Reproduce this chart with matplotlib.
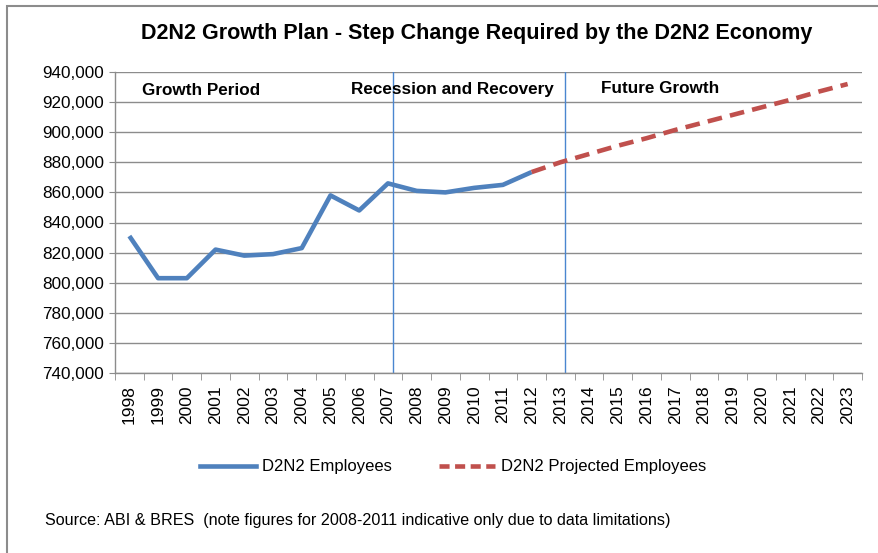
import matplotlib.pyplot as plt
from matplotlib.lines import Line2D
from matplotlib.patches import Rectangle
from matplotlib.ticker import FuncFormatter

years = [str(y) for y in range(1998, 2024)]
employees = [831000, 803000, 803000, 822000, 818000, 819000, 823000, 858000,
             848000, 866000, 861000, 860000, 863000, 865000, 873500]
projected = [873500, 880000, 885500, 891000, 896000, 901500, 906500, 911500,
             916500, 921500, 927000, 932000]
proj_start = 14  # 2012

BLUE = '#4F81BD'
RED = '#C0504D'

plt.rcParams['font.family'] = ['Liberation Sans', 'DejaVu Sans']

fig = plt.figure(figsize=(8.79, 5.53), dpi=100)
ax = fig.add_axes([115 / 879, 1 - 373 / 553, (862 - 115) / 879, (373 - 72) / 553])

x_emp = list(range(len(employees)))
x_proj = list(range(proj_start, proj_start + len(projected)))
ax.plot(x_emp, employees, color=BLUE, lw=3.3, solid_capstyle='butt', zorder=3)
ax.plot(x_proj, projected, color=RED, lw=3.3, dashes=(3.2, 1.8), zorder=3)

# period dividers
ax.axvline(9.18, color='#4a86d0', lw=1, zorder=2)
ax.axvline(15.15, color='#4a86d0', lw=1, zorder=2)

ax.set_xlim(-0.5, len(years) - 0.5)
ax.set_ylim(740000, 940000)
ax.set_yticks(range(740000, 940001, 20000))
ax.yaxis.set_major_formatter(FuncFormatter(lambda v, p: f'{int(v):,}'))
ax.set_xticks(range(len(years)))
ax.set_xticklabels(years, rotation=90, fontsize=12.5)
ax.set_xticks([i - 0.5 for i in range(len(years) + 1)], minor=True)
ax.tick_params(axis='x', which='major', length=0, pad=9)
ax.tick_params(axis='x', which='minor', length=5, color='#8c8c8c', direction='out')
ax.tick_params(axis='y', length=4, color='#8c8c8c', labelsize=12.3, pad=4)

ax.grid(axis='y', color='#8c8c8c', lw=1)
ax.set_axisbelow(True)
for s in ['top', 'right']:
    ax.spines[s].set_visible(False)
for s in ['left', 'bottom']:
    ax.spines[s].set_color('#8c8c8c')
    ax.spines[s].set_linewidth(1)

ax.text(0.45, 927500, 'Growth Period', fontsize=12.3, fontweight='bold', va='center')
ax.text(7.7, 928500, 'Recession and Recovery', fontsize=12.3, fontweight='bold', va='center')
ax.text(16.4, 929000, 'Future Growth', fontsize=12.3, fontweight='bold', va='center')

fig.text(477 / 879, 1 - 33 / 553, 'D2N2 Growth Plan - Step Change Required by the D2N2 Economy',
         ha='center', va='center', fontsize=15.5, fontweight='bold')

handles = [Line2D([], [], color=BLUE, lw=3.3),
           Line2D([], [], color=RED, lw=3.3, dashes=(2.2, 1.2))]
fig.legend(handles, ['D2N2 Employees', 'D2N2 Projected Employees'],
           loc='center', bbox_to_anchor=(453 / 879, 1 - 467 / 553), ncol=2,
           frameon=False, handlelength=3.4, handletextpad=0.35, columnspacing=2.8,
           prop={'size': 12})

fig.text(45 / 879, 1 - 521 / 553,
         'Source: ABI & BRES  (note figures for 2008-2011 indicative only due to data limitations)',
         va='center', fontsize=11.6)

fig.patches.append(Rectangle((7 / 879, -0.1), 1.1, 1.1 - 6 / 553,
                             transform=fig.transFigure, fill=False,
                             edgecolor='#8c8c8c', lw=1.5))

fig.savefig('out.png', dpi=100)
